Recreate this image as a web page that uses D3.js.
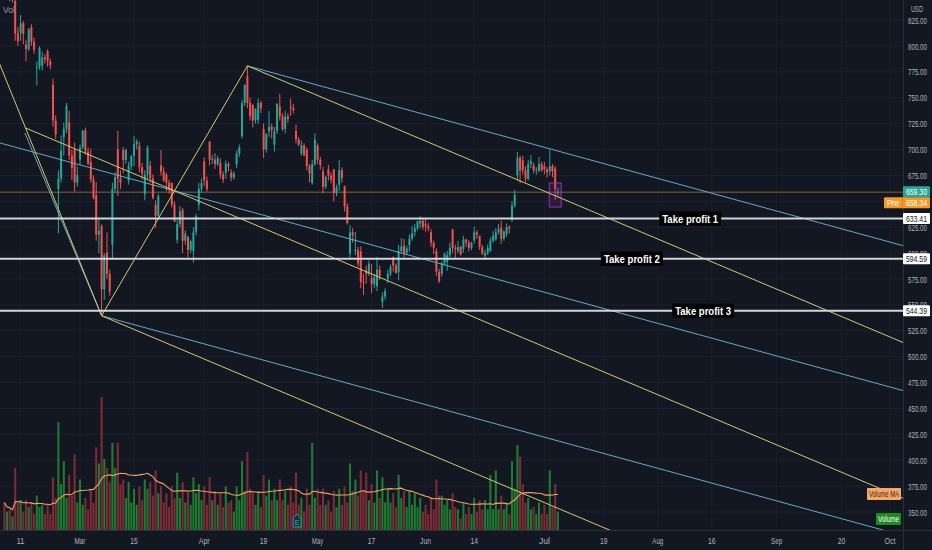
<!DOCTYPE html>
<html><head><meta charset="utf-8">
<script src="https://cdn.jsdelivr.net/npm/d3@7"></script>
<style>
html,body{margin:0;padding:0;background:#131722;overflow:hidden;}
svg{display:block;}
text{font-family:"Liberation Sans","DejaVu Sans",sans-serif;}
</style></head><body>
<svg id="c" width="932" height="550"></svg>
<script>
// ---------- DATA (4h bars, two per trading day; day index: Mar 1 = 0) ----------
const firstDay = -14; // Feb 8
const febBars = [
[869.7,877.8,858,862],[862,866,854.8,863.4],
[855.1,859.8,843,846],[846,852,841.8,849.5],
[843.6,844.8,805,812],[812,818,800,804.8],
[812.4,829.9,805,822],[822,824,801.7,811.7],
[801.3,806,785.3,797],[797,817.3,795,816.1],
[818,821,800,804],[804,808,792.4,796.2],
[779.1,785,762,780],[780,799.8,777,798.2],
[780.9,794.7,776.3,789],[789,792,783,787.4],
[795,796.8,780,785],[785,788,777.4,781.3],
[762.6,768.5,722,728],[728,733,710.2,714.5],
[662.1,680,619,672],[672,713.6,668,698.8],
[711.9,726,694.2,720],[720,745,716,742],
[726.2,737.2,690,694],[694,700,670.6,682.2],
[700,706.7,659.5,668],[668,684,664,675.5]
];
const marBars = [
[690.1,705,685.1,702],[702,719,700,718.4],
[718.3,721.1,695,698],[698,702,685,686.4],
[688,700.7,668,671],[671,675,651.7,653.2],
[655.8,668.5,612,618],[618,632,600,621.4],
[626.1,627.8,539.5,565],[565,600,555,598],
[600.6,620.1,575,580],[580,584,558.8,563],
[608.2,668,595.2,662],[662,678.1,658,673.6],
[700.3,717.9,655.1,672],[672,680,662,668.1],
[699.4,702.5,677.2,690],[690,701,686,699.6],
[670,688,666.1,684],[684,694.9,680,693.7],
[694.1,713.2,684,705],[705,710,700,707.9],
[703.4,707.9,678,683],[683,687,671,676.9],
[656.9,680,651,676],[676,703.7,672,701.8],
[684.3,689.2,668,672],[672,676,652,653.2],
[646.6,651,624.6,636],[636,657.2,634,654.9],
[684.6,699.6,675,679],[679,683,668.8,670],
[675.8,677.8,660,668],[668,671,657.5,662.2],
[667.9,668,644,647],[647,650,630.1,630.3],
[613,632,609.5,628],[628,645.5,625,640.4],
[641.9,643.8,599.9,612],[612,622,608,618.7],
[615.6,616.5,596,603],[603,613,600,611.3],
[601.8,625,591,620],[620,637.7,617,635.6],
[646.6,668,641.1,662],[662,672,658,667.9]
];
const aprBars = [
[688.4,692.4,665,670],[670,674,659.4,661.8],
[707.7,708.2,684.7,690],[690,695,686,691.1],
[690.3,696.6,681.4,686],[686,694,684,691.6],
[687,691.4,672,676],[676,679,667.8,671],
[677.4,689.6,671.7,686],[686,688,679,683.8],
[677.8,681,669.4,673],[673,679,671,677],
[685.7,699,682.1,696],[696,704.8,693,702],
[712.7,748,710.7,745],[745,763,742,762.3],
[770.7,780.8,740,745],[745,750,728,732.2],
[743.1,743.7,721.3,728],[728,740,725,738.9],
[728.7,749.4,724.6,745],[745,747,735,739.8],
[719.6,725.4,691.8,700],[700,716,697,714.6],
[717.4,737.3,712,722],[722,725,710.7,719],
[704.8,722,698,718],[718,744.8,715,744.1],
[741.5,753.8,728,732],[732,735,718,719.7],
[719.8,737.4,715.5,732],[732,735,726,729.4],
[741,749.3,732.6,740],[740,744,735,738.2],
[718,724,706,710],[710,712,703.4,704.7],
[696.4,708.5,694,704],[704,706,693.6,694.4],
[699.5,702.3,680,684],[684,686,668.5,677],
[667.6,690,666.1,686],[686,715.5,684,709.4]
];
const mayBars = [
[703.8,706,686,690],[690,693,680.5,684.9],
[678.9,683.5,657.7,664],[664,675,662,673.6],
[681.1,685.3,670,675],[675,678,667.3,670.9],
[680.8,681,650,658],[658,666,655,663.5],
[665.8,690,660.2,680],[680,683,668,672.4],
[664.9,665.1,640,645],[645,648,627.6,629],
[599.2,627.1,595.6,620],[620,624,610,617.2],
[602.5,620.4,598,603],[603,606,586.8,589.9],
[601.5,606.5,566,572],[572,580,559.7,571.7],
[583.4,588,570.5,580],[580,592.9,578,589.7],
[575.6,589.7,561.2,570],[570,580,566,576.8],
[568,596.3,563.4,584],[584,588,574,577.9],
[552.6,562,547,558],[558,566.2,555,563.5],
[575,584,571.1,580],[580,588.9,578,586.8],
[596.1,596.7,582,588],[588,590,580,580.9],
[581.6,608,573.7,602],[602,614.5,600,606.4],
[607.3,614,595.7,600],[600,607,598,604.7],
[607.6,618,601.5,614],[614,626.2,612,619.1],
[620.2,628,616.2,624],[624,631.1,622,630.9],
[628.5,635.6,624,631],[631,633,622.4,625.2]
];
const junBars = [
[627.8,633.8,620.6,626],[626,629,621,623.9],
[620.1,623.4,606,610],[610,612,599.1,605.1],
[601.8,604.6,578,582],[582,585,571.2,572.8],
[579.7,592,577.2,590],[590,600.6,588,599.1],
[591.8,602,582.9,598],[598,610,596,605.1],
[623,623.1,600,605],[605,608,595.5,603.6],
[602.2,611.8,600,606],[606,607,597.6,598.8],
[603.9,616.6,600.5,613],[613,614,606,610.1],
[610.2,612.6,601.5,605],[605,611,603,609.9],
[612.2,625.5,609.2,620],[620,622,614,617.7],
[616.7,616.8,603,606],[606,608,598.2,599.4],
[597.5,603,593.5,600],[600,608.5,598,604.9],
[601.9,615,601.3,612],[612,621.5,610,616.6],
[613.4,624,611.8,620],[620,628.4,618,623.3],
[624.5,631.4,608.9,614],[614,622,612,620.8],
[618.3,628.6,615.5,625],[625,627,619,623.7],
[632,650,630,646],[646,661,644,656.6],
[675,697.6,670,692],[692,694,667.6,679.8],
[689.6,693.8,676,680],[680,684,668.7,671.9],
[671.6,690,670.3,686],[686,694.7,682,688.7],
[684.7,687.5,677,680],[680,683,675.9,680.8],
[679.8,692.8,678.1,686],[686,688,679,679.7]
];
const julBars = [
[683.9,688,676,681],[681,683,672.8,677.9],
[679,700,675,684],[684,686,673.3,678.9],
[681.7,684,651.4,662],[658,663,654,659.3]
];
// volume per bar, millions
const febVol = [12,8, 9,6, 27,12, 13,8, 13,10, 12,7, 15,10, 11,7, 11,7, 23,14, 47,20, 30,14, 24,15, 33,12];
const marVol = [22,11, 14,9, 18,12, 36,29, 58,31, 27,21, 38,27, 38,20, 22,14, 21,12, 18,11, 19,13, 22,18, 21,15, 26,16, 19,12, 16,10, 19,14, 25,14, 21,12, 17,11, 23,16, 20,13];
const aprVol = [19,11, 23,13, 17,11, 16,10, 19,12, 13,8, 19,13, 30,17, 34,18, 17,11, 17,10, 24,15, 22,13, 18,13, 22,13, 17,11, 19,12, 25,11, 14,8, 18,11, 38,14];
const mayVol = [18,11, 18,11, 13,8, 17,10, 18,11, 19,12, 29,17, 22,15, 26,17, 25,13, 20,12, 26,14, 23,12, 18,12, 16,10, 24,14, 17,10, 17,11, 16,10, 14,8];
const junVol = [11,7, 14,9, 22,15, 15,11, 13,9, 16,10, 9,5, 12,7, 10,7, 14,8, 13,9, 13,9, 24,9, 26,9, 15,9, 12,7, 30,18, 37,32, 20,12, 14,9, 10,7, 12,7];
const julVol = [11,7, 26,10, 20,8];

const priceTicks = [350,375,400,425,450,475,500,525,550,575,600,625,650,675,700,725,750,775,800,825];
const hiddenTicks = [650]; // fully covered by the last-price tags
const timeTickLabels = ["11","Mar","15","Apr","19","May","17","Jun","14","Jul","19","Aug","16","Sep","20","Oct"];
const timeTickDays   = [-11, 0, 10, 23, 34, 44, 54, 64, 73, 86, 97, 107, 117, 129, 141, 150];

const tpNames  = ["Take profit 1","Take profit 2","Take profit 3"];
const tpPrices = [633.41, 594.59, 544.39];
const tpLabelDays = [113, 102.2, 115.4];

const lastPrice = 659.30, prePrice = 658.34;
// pitchfork anchors [day, price]
const P1 = [-10.2, 721.1], P2 = [4, 539.5], P3 = [31, 780.8];
const handleStart = [-16, 797];
const tealHandleStart = [-10.2, 716];
const yellowSlope = -2.2, tealSlope = -1.43; // price per day
const boxDays = [86.9, 89.1], boxPrices = [667.7, 644.5];
const earningsDay = 40.2;

// ---------- BUILD ----------
const bars = [...febBars, ...marBars, ...aprBars, ...mayBars, ...junBars, ...julBars];
const vols = [...febVol, ...marVol, ...aprVol, ...mayVol, ...junVol, ...julVol];
const barDay = i => firstDay + Math.floor(i/2) + (i%2)*0.5;

const W = 932, H = 550, plotR = 903, plotB = 530;
const x = d3.scaleLinear().domain([0, 86]).range([80, 544.4]);
const y = d3.scaleLinear().domain([350, 800]).range([512.0, 46]);
const yv = d3.scaleLinear().domain([0, 58]).range([plotB, 397]);

const UP = "#26a69a", DN = "#ef5350";
const YEL = "#cfcd6c", TEAL = "#62adc2";

const svg = d3.select("#c");

// narrow UI text: horizontally scaled via transform so its box is the drawn box
function ntext(parent, tx, ty, txt, size, width, opts={}){
  const g = parent.append("g");
  const t = g.append("text").attr("x",0).attr("y",0).attr("font-size",size)
    .attr("fill",opts.fill||"#b2b5be").attr("text-anchor",opts.anchor||"start")
    .attr("font-weight",opts.weight||"normal").text(txt);
  const L = t.node().getComputedTextLength() || 1;
  g.attr("transform",`translate(${tx},${ty}) scale(${width/L},1)`);
  return g;
}

svg.append("rect").attr("width", W).attr("height", H).attr("fill", "#131722");
svg.append("defs").append("clipPath").attr("id","plot").append("rect")
  .attr("x",0).attr("y",0).attr("width",plotR).attr("height",plotB);

const plot = svg.append("g").attr("clip-path","url(#plot)");

// grid
plot.selectAll(".hg").data(priceTicks).enter().append("line")
  .attr("x1",0).attr("x2",plotR).attr("y1",d=>y(d)).attr("y2",d=>y(d))
  .attr("stroke","#1d2130").attr("stroke-width",1);
plot.selectAll(".vg").data(timeTickDays).enter().append("line")
  .attr("y1",0).attr("y2",plotB).attr("x1",d=>x(d)).attr("x2",d=>x(d))
  .attr("stroke","#1a1e2b").attr("stroke-width",1);

// volume
const vg = plot.append("g");
vols.forEach((v,i)=>{
  const b = bars[i]; const up = b[3] >= b[0];
  vg.append("rect").attr("x", x(barDay(i))-1.05).attr("width",2.1)
    .attr("y", yv(v)).attr("height", plotB - yv(v))
    .attr("fill", up ? "#207a31" : "#7b2c37");
});
// volume MA(20)
const ma = vols.map((v,i)=>d3.mean(vols.slice(Math.max(0,i-19), i+1)));
plot.append("path").datum(ma)
  .attr("d", d3.line().x((d,i)=>x(barDay(i))).y(d=>yv(d)))
  .attr("fill","none").attr("stroke","#f0a466").attr("stroke-width",1.1);

// earnings marker
const ex = x(earningsDay);
const eg = svg.append("g");
eg.append("path").attr("d",`M${ex-4},${plotB-3} L${ex-4},${plotB-12} L${ex},${plotB-16} L${ex+4},${plotB-12} L${ex+4},${plotB-3} Z`)
  .attr("fill","#16323a").attr("stroke","#2a9aa0").attr("stroke-width",1);
eg.append("text").attr("x",ex).attr("y",plotB-5.5).attr("text-anchor","middle").attr("font-size",7).attr("fill","#3ab0b0").text("E");

// pre-market price line
plot.append("line").attr("x1",0).attr("x2",plotR).attr("y1",y(658.8)).attr("y2",y(658.8))
  .attr("stroke","#5c4a2e").attr("stroke-width",1.6);

// candles
const cg = plot.append("g");
bars.forEach((b,i)=>{
  const cx = x(barDay(i)); const up = b[3] >= b[0]; const col = up ? UP : DN;
  cg.append("line").attr("x1",cx).attr("x2",cx).attr("y1",y(b[1])).attr("y2",y(b[2])).attr("stroke",col).attr("stroke-width",1);
  const y0 = Math.min(y(b[0]),y(b[3])), h = Math.max(1, Math.abs(y(b[0])-y(b[3])));
  cg.append("rect").attr("x",cx-1).attr("width",2).attr("y",y0).attr("height",h).attr("fill",col);
});

// purple box
plot.append("rect").attr("x",x(boxDays[0])).attr("width",x(boxDays[1])-x(boxDays[0]))
  .attr("y",y(boxPrices[0])).attr("height",y(boxPrices[1])-y(boxPrices[0]))
  .attr("fill","rgba(156,39,176,0.18)").attr("stroke","#8e3aa8").attr("stroke-width",1);

// pitchfork lines
const endDay = 175;
const seg = (a,b,col)=> plot.append("line").attr("x1",x(a[0])).attr("y1",y(a[1])).attr("x2",x(b[0])).attr("y2",y(b[1]))
  .attr("stroke",col).attr("stroke-width",1);
const ray = (a,slope,col)=> seg(a,[endDay, a[1]+slope*(endDay-a[0])],col);
const mid = [(P2[0]+P3[0])/2, (P2[1]+P3[1])/2];
seg(tealHandleStart, P2, TEAL);
ray(P3, tealSlope, TEAL);
ray(P2, tealSlope, TEAL);
ray([-16, mid[1] + tealSlope*(-16-mid[0])], tealSlope, TEAL);
seg(handleStart, P2, YEL);
seg(P2, P3, YEL);
ray(P1, yellowSlope, YEL);
ray(P2, yellowSlope, YEL);
ray(P3, yellowSlope, YEL);

// take-profit lines + labels
tpPrices.forEach((p,i)=>{
  plot.append("line").attr("x1",0).attr("x2",plotR).attr("y1",y(p)).attr("y2",y(p))
    .attr("stroke","#d1d4dc").attr("stroke-width",2);
  const cx = x(tpLabelDays[i]);
  svg.append("rect").attr("x",cx-31).attr("y",y(p)-7).attr("width",62).attr("height",14).attr("fill","#000000");
  ntext(svg, cx, y(p)+4, tpNames[i], 11, 56, {anchor:"middle", weight:"bold", fill:"#ffffff"});
});

// axes separators
svg.append("line").attr("x1",plotR+0.5).attr("x2",plotR+0.5).attr("y1",0).attr("y2",H).attr("stroke","#2a2e39");
svg.append("line").attr("x1",0).attr("x2",W).attr("y1",plotB+0.5).attr("y2",plotB+0.5).attr("stroke","#2a2e39");

// price axis labels
priceTicks.filter(d=>!hiddenTicks.includes(d)).forEach(d=>{
  ntext(svg, 908, y(d)+3.5, d.toFixed(2), 9.5, 19);
});
ntext(svg, 911, 12, "USD", 8.5, 12);

// time axis labels
timeTickDays.forEach((d,i)=>{
  const lab = timeTickLabels[i];
  const w = lab.length === 2 ? 7.5 : 11;
  ntext(svg, x(d), 544, lab, 9.5, w, {anchor:"middle"});
});

// price tags on the axis
const tag = (yc, txt, bg, fg) => {
  svg.append("rect").attr("x",903).attr("y",yc-5.5).attr("width",27).attr("height",11).attr("fill",bg).attr("rx",1);
  ntext(svg, 906, yc+3.5, txt, 9.5, 21, {fill:fg});
};
tpPrices.forEach(p=>tag(y(p), p.toFixed(2), "#ffffff", "#131722"));
tag(y(lastPrice), lastPrice.toFixed(2), "#26a69a", "#ffffff");
const preY = y(lastPrice)+11;
svg.append("rect").attr("x",884).attr("y",preY-5.5).attr("width",46).attr("height",11).attr("fill","#f39a2a").attr("rx",1);
svg.append("line").attr("x1",902.5).attr("x2",902.5).attr("y1",preY-5.5).attr("y2",preY+5.5).attr("stroke","#d9831c");
ntext(svg, 887, preY+3.5, "Pre", 9.5, 12, {fill:"#ffffff"});
ntext(svg, 906, preY+3.5, prePrice.toFixed(2), 9.5, 21, {fill:"#ffffff"});

// volume legend tags
svg.append("rect").attr("x",867).attr("y",488).attr("width",34).attr("height",12).attr("fill","#f5a66b").attr("rx",1);
ntext(svg, 884, 497, "Volume MA", 8.5, 30, {anchor:"middle", fill:"#3a2412"});
svg.append("rect").attr("x",876).attr("y",513).attr("width",25).attr("height",12).attr("fill","#1b8a1f").attr("rx",1);
ntext(svg, 888.5, 522, "Volume", 8.5, 21, {anchor:"middle", fill:"#ffffff"});

// Vol label
ntext(svg, 3, 13, "Vol", 9, 12, {fill:"#9598a1"});
</script>
</body></html>
